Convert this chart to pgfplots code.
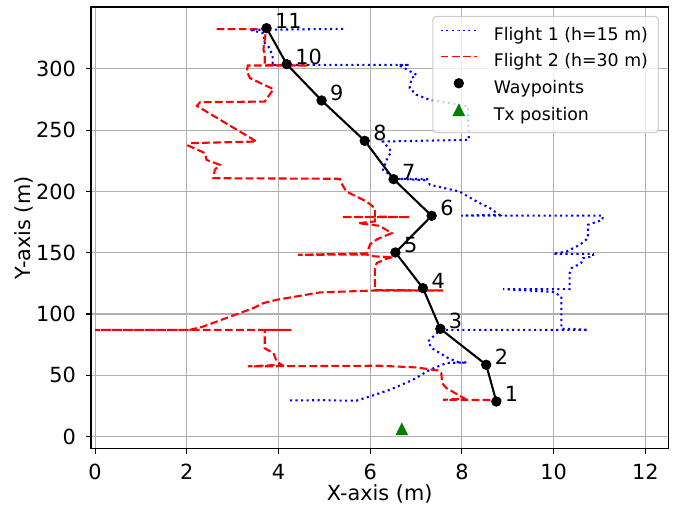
\documentclass[border=0pt]{standalone}
\usepackage{fontspec}
\setmainfont{DejaVu Sans}
\usepackage{pgfplots}
\pgfplotsset{compat=1.18}
\usepackage{pgfplotstable}

\definecolor{mplgreen}{rgb}{0,0.5,0}
\definecolor{gridgray}{HTML}{B0B0B0}

\makeatletter
\pgfdeclareplotmark{mpltri}{%
  \pgfpathmoveto{\pgfqpoint{0pt}{\pgfplotmarksize}}%
  \pgfpathlineto{\pgfqpoint{-\pgfplotmarksize}{-\pgfplotmarksize}}%
  \pgfpathlineto{\pgfqpoint{\pgfplotmarksize}{-\pgfplotmarksize}}%
  \pgfpathclose
  \pgfusepathqfillstroke}
\makeatother

\pgfplotstableread{
x y
4.25 29.5
5.00 29.7
5.45 29.3
5.70 29.3
5.99 32.7
6.43 38.2
6.93 46.3
7.30 54.5
7.66 60.0
8.11 60.5
7.95 60.2
7.70 64.0
7.34 72.2
7.26 77.6
7.53 87.1
10.75 87.1
10.17 88.0
10.17 114.3
9.99 118.0
8.90 120.3
10.35 120.3
10.35 133.4
10.39 137.4
10.60 141.5
10.64 145.6
10.86 146.9
10.86 149.1
9.99 149.1
10.28 151.0
10.57 156.4
10.75 161.9
10.75 172.8
11.07 176.8
11.07 180.3
7.99 180.3
8.82 180.9
8.61 186.4
8.32 191.8
7.95 199.9
7.30 205.4
7.24 210.0
6.61 210.3
7.24 209.0
6.55 210.5
6.28 217.6
6.36 225.8
6.46 232.5
6.28 240.7
8.15 242.1
8.13 269.2
7.95 270.6
7.30 274.7
7.01 278.8
6.86 284.3
6.90 292.4
7.01 295.1
6.61 303.3
6.86 303.3
3.74 303.3
3.87 303.3
3.87 310.0
3.81 316.9
3.70 321.0
3.67 329.1
3.38 331.8
5.41 332.6
}\flightone

\pgfplotstableread{
x y
8.86 30.0
7.59 30.0
8.06 31.0
7.66 39.6
7.57 43.6
7.55 51.8
7.48 53.9
7.01 56.4
6.21 57.8
3.33 57.3
4.07 58.6
3.96 61.3
3.89 68.1
3.70 72.0
3.70 87.1
4.28 87.1
0.00 87.1
2.07 87.1
2.36 89.8
3.45 104.8
3.67 108.9
3.96 111.6
4.90 117.6
6.10 119.2
7.59 119.2
6.10 119.5
6.10 136.0
6.14 141.5
6.35 145.0
6.50 146.4
6.10 147.0
5.92 148.5
4.43 148.3
5.92 149.5
5.95 152.0
6.00 157.0
6.15 161.0
6.47 166.0
6.20 172.0
5.74 174.1
6.10 175.5
6.10 179.0
5.38 179.0
6.86 179.0
6.10 179.5
6.10 186.4
5.92 191.8
5.48 199.9
5.37 206.8
5.34 210.3
2.58 210.8
2.61 217.6
2.72 221.7
2.43 225.8
2.40 231.2
2.03 237.4
2.07 239.4
3.52 240.7
2.22 269.8
2.29 272.8
3.70 273.3
3.89 283.4
3.38 292.4
3.31 297.8
3.33 302.7
4.65 302.7
3.70 303.0
3.70 312.8
3.67 315.5
3.72 329.0
3.74 332.4
2.58 332.4
}\flighttwo

\pgfplotstableread{
x y lab
8.75 28.6 1
8.53 58.6 2
7.53 87.9 3
7.15 121.1 4
6.55 150.2 5
7.34 180.1 6
6.51 210.0 7
5.88 241.3 8
4.94 274.2 9
4.18 303.8 10
3.74 333.2 11
}\waypoints

\begin{document}
\begin{tikzpicture}
\begin{axis}[
  width=415.7pt, height=318.2pt, scale only axis,
  xmin=-0.09, xmax=12.5, ymin=-10, ymax=350.5,
  xtick={0,2,4,6,8,10,12}, ytick={0,50,100,150,200,250,300},
  grid=major, major grid style={gridgray, line width=0.8pt},
  axis line style={line width=0.8pt},
  tick align=outside, tick pos=left,
  major tick length=3.5pt,
  every tick/.style={black, line width=0.8pt},
  tick label style={font=\fontsize{15}{18}\selectfont},
  /pgf/number format/assume math mode=true,
  xticklabel style={inner sep=0pt, anchor=north, yshift=-7.5pt},
  yticklabel style={inner sep=0pt, anchor=east, xshift=-7.2pt},
  xlabel={X-axis (m)}, ylabel={Y-axis (m)},
  label style={font=\fontsize{15}{18}\selectfont},
  xlabel style={at={(axis description cs:0.5,-0.117)}, anchor=base, inner sep=0pt},
  ylabel style={at={(axis description cs:-0.104,0.5)}, anchor=base, inner sep=0pt},
  legend style={at={(1,1)}, anchor=north east, xshift=-6.7pt, yshift=-6.5pt,
    draw=black!20, line width=0.8pt, rounded corners=2.5pt,
    fill=white, fill opacity=0.8, text opacity=1,
    font=\fontsize{12.5}{15}\selectfont,
    inner xsep=5.5pt, inner ysep=5.5pt, row sep=4.2pt,
    /tikz/every odd column/.append style={column sep=10pt}},
  legend cell align=left,
  legend image code/.code={\draw[line width=0.4pt, mark repeat=2, mark phase=2, #1, opacity=1]
     plot coordinates {(0pt,3.3pt) (13pt,3.3pt) (26pt,3.3pt)};},
]
\addplot[blue, line width=1.5pt, dash pattern=on 1.5pt off 2.475pt] table {\flightone};
\addlegendentry{Flight 1 (h=15 m)}
\addplot[red, line width=1.5pt, dash pattern=on 5.55pt off 2.4pt] table {\flighttwo};
\addlegendentry{Flight 2 (h=30 m)}
\addplot[black, line width=1.5pt, forget plot] table {\waypoints};
\addplot[only marks, mark=*, mark size=3.5pt, black, mark options={solid},
  nodes near coords, point meta=explicit symbolic,
  nodes near coords style={anchor=base west, inner sep=0pt, xshift=6pt,
    font=\fontsize{15}{18}\selectfont, text=black}]
  table[meta=lab] {\waypoints};
\addlegendentry{Waypoints}
\addplot[only marks, mark=mpltri, mark size=4.2pt, mplgreen, mark options={solid}]
  coordinates {(6.69,6.2)};
\addlegendentry{Tx position}
\end{axis}
\pgfresetboundingbox
\path ([xshift=-65.5pt,yshift=-41.8pt]current axis.south west) rectangle ([xshift=13.5pt,yshift=5pt]current axis.north east);
\end{tikzpicture}
\end{document}
